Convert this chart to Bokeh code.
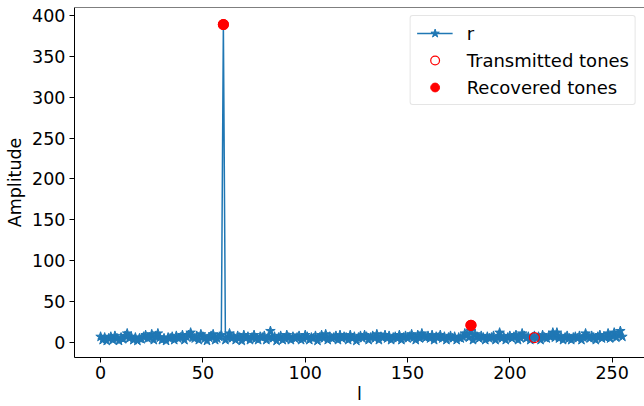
from bokeh.plotting import figure
from bokeh.models import Legend, LegendItem, Span, Range1d, FixedTicker
from bokeh.embed import file_html
from bokeh.resources import INLINE

# ---- data ----
r_values = [
    7, 3, 6, 2, 5, 7, 3, 8, 5, 2, 6, 4, 8, 11, 5, 7,
    3, 6, 2, 5, 4, 7, 9, 5, 6, 10, 3, 8, 11, 6, 3, 5,
    2, 6, 5, 7, 3, 8, 5, 6, 9, 3, 7, 9, 12, 6, 5, 8,
    3, 10, 7, 5, 2, 6, 8, 10, 3, 5, 7, 9, 389, 3, 6, 11,
    5, 7, 3, 8, 6, 2, 9, 5, 7, 3, 6, 9, 5, 3, 7, 6,
    8, 3, 6, 14, 5, 7, 2, 6, 8, 3, 5, 9, 6, 3, 7, 5,
    6, 8, 3, 5, 9, 7, 3, 6, 5, 8, 2, 6, 9, 5, 10, 3,
    7, 5, 6, 8, 3, 9, 5, 7, 6, 3, 9, 5, 7, 2, 6, 8,
    5, 9, 7, 3, 6, 8, 5, 10, 3, 7, 6, 9, 5, 8, 3, 6,
    7, 5, 9, 3, 6, 8, 5, 7, 10, 6, 3, 9, 5, 11, 7, 6,
    8, 5, 9, 3, 7, 6, 9, 5, 7, 3, 6, 8, 5, 7, 3, 6,
    5, 7, 11, 9, 6, 14, 3, 10, 7, 5, 8, 6, 3, 7, 5, 6,
    8, 3, 6, 12, 5, 7, 3, 6, 8, 5, 7, 9, 3, 6, 11, 8,
    5, 7, 3, 6, 8, 5, 7, 3, 9, 6, 5, 8, 7, 12, 6, 12,
    5, 7, 3, 6, 8, 5, 3, 6, 7, 5, 8, 3, 6, 11, 7, 5,
    8, 6, 3, 7, 9, 5, 7, 6, 11, 5, 8, 12, 6, 9, 14, 7,
]
l_index = list(range(len(r_values)))

transmitted_l = [60, 181, 212]
transmitted_amp = [389, 21, 6]

recovered_l = [60, 181]
recovered_amp = [389, 21]

x_ticks = [0, 50, 100, 150, 200, 250]
y_ticks = [0, 50, 100, 150, 200, 250, 300, 350, 400]

FONT = "DejaVu Sans"
FS = "17.5px"
BLUE = "#1f77b4"

p = figure(width=644, height=406, output_backend="svg", toolbar_location=None,
           x_range=Range1d(-12.75, 265.8), y_range=Range1d(-18.4, 409.8),
           min_border_left=74, min_border_right=0, min_border_top=7,
           min_border_bottom=49)
p.outline_line_color = None
p.grid.visible = False
p.background_fill_color = "white"

line_r = p.line(l_index, r_values, line_color=BLUE, line_width=1.5)
star_r = p.scatter(l_index, r_values, marker="star", size=10,
                   fill_color=BLUE, line_color=BLUE)
trans = p.scatter(transmitted_l, transmitted_amp, marker="circle", size=10,
                  fill_color=None, line_color="red", line_width=1.2)
recov = p.scatter(recovered_l, recovered_amp, marker="circle", size=10,
                  fill_color="red", line_color="red")

top_spine = Span(location=409.8, dimension="width", line_color="black",
                 line_width=1)
p.add_layout(top_spine)

for ax in (p.xaxis[0], p.yaxis[0]):
    ax.axis_line_color = "black"
    ax.axis_line_width = 1
    ax.major_tick_line_color = "black"
    ax.major_tick_in = 0
    ax.major_tick_out = 5
    ax.minor_tick_line_color = None
    ax.major_label_text_font = FONT
    ax.major_label_text_font_size = FS
    ax.major_label_text_color = "black"
    ax.axis_label_text_font = FONT
    ax.axis_label_text_font_size = FS
    ax.axis_label_text_font_style = "normal"
    ax.axis_label_text_color = "black"

p.xaxis.ticker = FixedTicker(ticks=x_ticks)
p.yaxis.ticker = FixedTicker(ticks=y_ticks)
p.xaxis.axis_label = "l"
p.yaxis.axis_label = "Amplitude"
p.xaxis.major_label_standoff = 3
p.xaxis.axis_label_standoff = 2
p.yaxis.major_label_standoff = 4
p.yaxis.axis_label_standoff = 4

legend = Legend(items=[
    LegendItem(label="r", renderers=[line_r, star_r]),
    LegendItem(label="Transmitted tones", renderers=[trans]),
    LegendItem(label="Recovered tones", renderers=[recov]),
], location="top_right")
legend.label_text_font = FONT
legend.label_text_font_size = "18px"
legend.label_text_color = "black"
legend.glyph_width = 36
legend.glyph_height = 22
legend.label_standoff = 14
legend.spacing = 5
legend.padding = 6
legend.margin = 8
legend.border_line_color = "#cccccc"
legend.border_line_width = 1
legend.border_radius = 3
legend.background_fill_alpha = 0.8
p.add_layout(legend)

open("out.html", "w").write(file_html(p, INLINE))
